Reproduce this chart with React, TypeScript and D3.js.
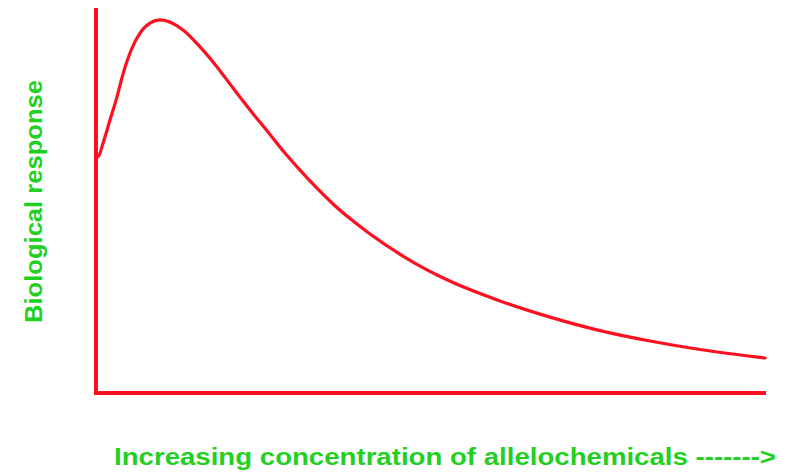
import React from "react";
import * as d3 from "d3";

// Concentration (arbitrary units, 0–100) and biological response (0–100)
const concentration = [0.04, 0.3, 1.05, 2.09, 3.14, 4.04, 5.08, 6.58, 8.07, 9.57, 13.0, 15.55, 18.09, 20.48, 23.02, 25.56, 27.95, 30.49, 33.03, 35.43, 37.97, 40.66, 47.38, 52.47, 60.39, 67.86, 75.34, 82.81, 90.28, 100];
const response = [62.3, 61.3, 64.9, 70.9, 76.9, 82.9, 88.3, 93.5, 96.1, 96.9, 94.3, 89.9, 84.7, 79.2, 73.5, 68.1, 62.9, 57.9, 53.2, 49.1, 45.3, 41.7, 34.0, 29.4, 23.9, 19.7, 16.2, 13.5, 11.3, 9.1];

const xLabel = "Increasing concentration of allelochemicals ------->";
const yLabel = "Biological response";

const W = 787;
const H = 473;
const RED = "#ff1020";
const GREEN = "#22d022";

export default function App() {
  const x = d3.scaleLinear().domain([0, 100]).range([96, 765]);
  const y = d3.scaleLinear().domain([0, 100]).range([393, 8]);

  const pts: [number, number][] = concentration.map((c, i) => [c, response[i]]);
  const line = d3
    .line<[number, number]>()
    .x((d) => x(d[0]))
    .y((d) => y(d[1]))
    .curve(d3.curveMonotoneX);

  return (
    <svg
      width={W}
      height={H}
      style={{ position: "absolute", left: 0, top: 0, background: "#fff" }}
    >
      {/* axes */}
      <line x1={x(0)} x2={x(0)} y1={y(100)} y2={y(0) + 2} stroke={RED} strokeWidth={4} />
      <line x1={x(0) - 2} x2={x(100) + 1} y1={y(0)} y2={y(0)} stroke={RED} strokeWidth={4} />
      {/* curve */}
      <path d={line(pts) || ""} fill="none" stroke={RED} strokeWidth={3.2} strokeLinejoin="round" strokeLinecap="round" />
      {/* labels */}
      <text
        transform={`translate(42,323) rotate(-90)`}
        textAnchor="start"
        fill={GREEN}
        fontFamily="Liberation Sans, Arial, sans-serif"
        fontWeight="bold"
        fontSize={23.5}
        textLength={243}
        lengthAdjust="spacingAndGlyphs"
      >
        {yLabel}
      </text>
      <text
        x={114}
        y={465}
        textAnchor="start"
        fill={GREEN}
        fontFamily="Liberation Sans, Arial, sans-serif"
        fontWeight="bold"
        fontSize={23.5}
        textLength={662}
        lengthAdjust="spacingAndGlyphs"
      >
        {xLabel}
      </text>
    </svg>
  );
}
